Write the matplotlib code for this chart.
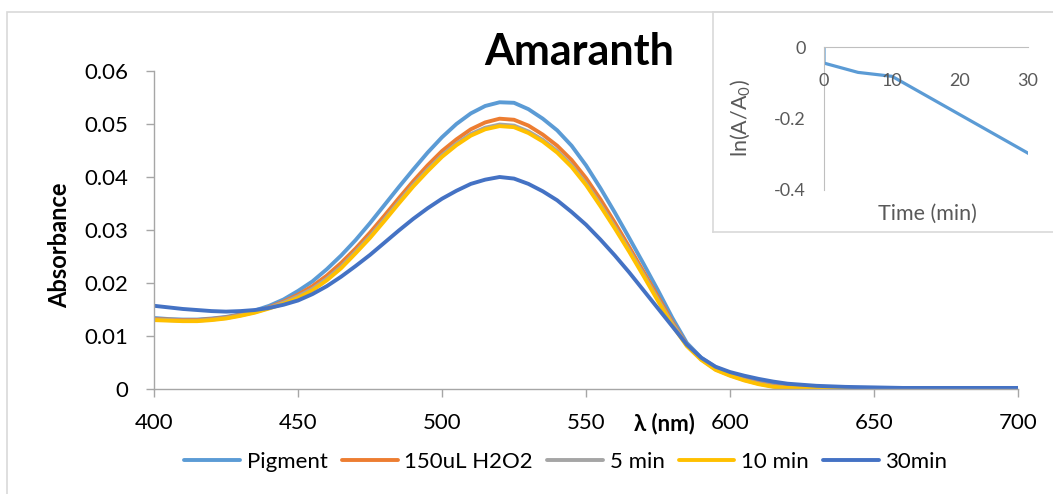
import matplotlib
matplotlib.use("Agg")
import matplotlib.pyplot as plt
from matplotlib.patches import Rectangle

plt.rcParams['font.family'] = ['Lato', 'DejaVu Sans']

wavelength = [400, 405, 410, 415, 420, 425, 430, 435, 440, 445, 450, 455, 460, 465,
              470, 475, 480, 485, 490, 495, 500, 505, 510, 515, 520, 525, 530, 535,
              540, 545, 550, 555, 560, 565, 570, 575, 580, 585, 590, 595, 600, 605,
              610, 615, 620, 625, 630, 635, 640, 650, 660, 670, 680, 690, 700]

pigment = [0.0134, 0.0132, 0.0131, 0.0131, 0.0133, 0.0136, 0.0141, 0.0148, 0.0157, 0.0169,
           0.0185, 0.0203, 0.0226, 0.0252, 0.0281, 0.0313, 0.0347, 0.0381, 0.0414, 0.0446,
           0.0475, 0.0500, 0.0520, 0.0534, 0.0541, 0.0540, 0.0528, 0.0510, 0.0488, 0.0459,
           0.0422, 0.0379, 0.0333, 0.0285, 0.0236, 0.0186, 0.0134, 0.0087, 0.0059, 0.0041,
           0.0030, 0.0020, 0.0013, 0.0008, 0.0004, 0.0003, 0.0002, 0.0001, 0.0001, 0.0000,
           0.0000, 0.0000, 0.0000, 0.0000, 0.0002]

h2o2 = [0.0132, 0.0131, 0.0130, 0.0130, 0.0132, 0.0135, 0.0140, 0.0146, 0.0154, 0.0165,
        0.0178, 0.0194, 0.0214, 0.0238, 0.0265, 0.0295, 0.0327, 0.0360, 0.0392, 0.0422,
        0.0449, 0.0471, 0.0490, 0.0503, 0.0510, 0.0508, 0.0497, 0.0480, 0.0459, 0.0432,
        0.0398, 0.0358, 0.0314, 0.0268, 0.0221, 0.0174, 0.0126, 0.0084, 0.0057, 0.0038,
        0.0027, 0.0018, 0.0011, 0.0006, 0.0003, 0.0002, 0.0001, 0.0000, 0.0000, 0.0000,
        0.0000, 0.0000, 0.0000, 0.0000, 0.0002]

min5 = [0.0131, 0.0130, 0.0129, 0.0129, 0.0131, 0.0134, 0.0139, 0.0145, 0.0153, 0.0163,
        0.0175, 0.0189, 0.0208, 0.0231, 0.0259, 0.0288, 0.0320, 0.0353, 0.0385, 0.0414,
        0.0441, 0.0463, 0.0481, 0.0493, 0.0499, 0.0497, 0.0486, 0.0470, 0.0449, 0.0422,
        0.0388, 0.0348, 0.0306, 0.0262, 0.0216, 0.0169, 0.0123, 0.0083, 0.0056, 0.0037,
        0.0026, 0.0017, 0.0010, 0.0005, 0.0002, 0.0001, 0.0000, 0.0000, 0.0000, 0.0000,
        0.0000, 0.0000, 0.0000, 0.0000, 0.0002]

min10 = [0.0130, 0.0129, 0.0128, 0.0128, 0.0130, 0.0133, 0.0138, 0.0144, 0.0152, 0.0161,
         0.0172, 0.0186, 0.0205, 0.0228, 0.0256, 0.0285, 0.0317, 0.0350, 0.0382, 0.0411,
         0.0438, 0.0460, 0.0478, 0.0490, 0.0496, 0.0494, 0.0483, 0.0467, 0.0446, 0.0419,
         0.0385, 0.0345, 0.0303, 0.0259, 0.0213, 0.0166, 0.0120, 0.0081, 0.0055, 0.0036,
         0.0025, 0.0016, 0.0009, 0.0004, 0.0002, 0.0001, 0.0000, 0.0000, 0.0000, 0.0000,
         0.0000, 0.0000, 0.0000, 0.0000, 0.0002]

min30 = [0.0157, 0.0154, 0.0151, 0.0149, 0.0147, 0.0146, 0.0147, 0.0149, 0.0153, 0.0159,
         0.0167, 0.0179, 0.0194, 0.0212, 0.0232, 0.0253, 0.0276, 0.0299, 0.0321, 0.0341,
         0.0359, 0.0374, 0.0387, 0.0395, 0.0400, 0.0397, 0.0387, 0.0373, 0.0356, 0.0334,
         0.0310, 0.0282, 0.0252, 0.0220, 0.0186, 0.0152, 0.0118, 0.0084, 0.0059, 0.0042,
         0.0032, 0.0025, 0.0019, 0.0014, 0.0010, 0.0008, 0.0006, 0.0005, 0.0004, 0.0003,
         0.0002, 0.0002, 0.0002, 0.0002, 0.0002]

series_labels = ['Pigment', '150uL H2O2', '5 min', '10 min', '30min']
series_colors = ['#5B9BD5', '#ED7D31', '#A5A5A5', '#FFC000', '#4472C4']

inset_time = [0, 0, 5, 10, 30]
inset_lnA = [0, -0.045, -0.071, -0.082, -0.297]

W, H = 1053, 494
fig = plt.figure(figsize=(W / 100, H / 100), dpi=100)

def fx(px):
    return px / W

def fy(py):
    return 1 - py / H

# main axes
ax = fig.add_axes([fx(154), fy(389), fx(1018) - fx(154), fy(71) - fy(389)])
for y, lab, col in zip([pigment, h2o2, min5, min10, min30], series_labels, series_colors):
    ax.plot(wavelength, y, color=col, lw=2.8, label=lab, solid_capstyle='round',
            solid_joinstyle='round')
ax.set_xlim(400, 700)
ax.set_ylim(0, 0.06)
ax.set_xticks([400, 450, 500, 550, 600, 650, 700])
ax.set_yticks([0, 0.01, 0.02, 0.03, 0.04, 0.05, 0.06])
ax.set_yticklabels(['0', '0.01', '0.02', '0.03', '0.04', '0.05', '0.06'])
for s in ['top', 'right']:
    ax.spines[s].set_visible(False)
for s in ['left', 'bottom']:
    ax.spines[s].set_color('#A6A6A6')
    ax.spines[s].set_linewidth(1.0)
ax.tick_params(axis='both', direction='out', length=5.5, width=1.0, color='#A6A6A6',
               labelsize=16, labelcolor='black')
ax.tick_params(axis='y', pad=13)
ax.tick_params(axis='x', pad=12)

fig.text(fx(579), fy(52), 'Amaranth', fontsize=31, fontweight='bold', ha='center', va='center')
fig.text(fx(60), fy(245), 'Absorbance', fontsize=17, fontweight='bold', rotation=90,
         ha='center', va='center')
fig.text(fx(664), fy(424), 'λ (nm)', fontsize=16, fontweight='bold', ha='center', va='center')

fig.legend(loc='center', bbox_to_anchor=(fx(566), fy(462)), ncol=5, frameon=False,
           fontsize=16, handlelength=2.5, handletextpad=0.3, columnspacing=0.65)

# outer chart border
fig.patches.append(Rectangle((fx(7), -0.1), 1.2, fy(12) + 0.1, transform=fig.transFigure,
                             fill=False, edgecolor='#D9D9D9', lw=1.2))

# inset box
axbox = fig.add_axes([fx(713), fy(232), 1.1 - fx(713), fy(12) - fy(232)])
axbox.set_xticks([])
axbox.set_yticks([])
axbox.set_facecolor('white')
for s in axbox.spines.values():
    s.set_color('#D9D9D9')
    s.set_linewidth(1.2)

# inset axes
axi = fig.add_axes([fx(824), fy(190), fx(1028) - fx(824), fy(47) - fy(190)])
axi.patch.set_alpha(0)
axi.plot(inset_time, inset_lnA, color='#5B9BD5', lw=2.3)
axi.set_xlim(0, 30)
axi.set_ylim(-0.4, 0)
axi.set_xticks([0, 10, 20, 30])
axi.set_yticks([0, -0.2, -0.4])
axi.set_yticklabels(['0', '-0.2', '-0.4'])
axi.spines['right'].set_visible(False)
axi.spines['bottom'].set_visible(False)
axi.spines['top'].set_color('#BFBFBF')
axi.spines['left'].set_color('#BFBFBF')
axi.xaxis.set_ticks_position('top')
axi.tick_params(axis='x', top=True, bottom=False, labeltop=False, labelbottom=False, length=0)
for t, lab in zip([0, 10, 20, 30], ['0', '10', '20', '30']):
    axi.text(t, -0.094, lab, ha='center', va='center', fontsize=13, color='#595959')
axi.tick_params(axis='y', length=0, labelsize=13, labelcolor='#595959', pad=13)
fig.text(fx(740), fy(118), r'$\mathregular{ln(A/A_0)}$', fontsize=15.5, color='#595959',
         rotation=90, ha='center', va='center')
fig.text(fx(927), fy(214), 'Time (min)', fontsize=15.5, color='#595959', ha='center', va='center')

fig.savefig('out.png', dpi=100)
